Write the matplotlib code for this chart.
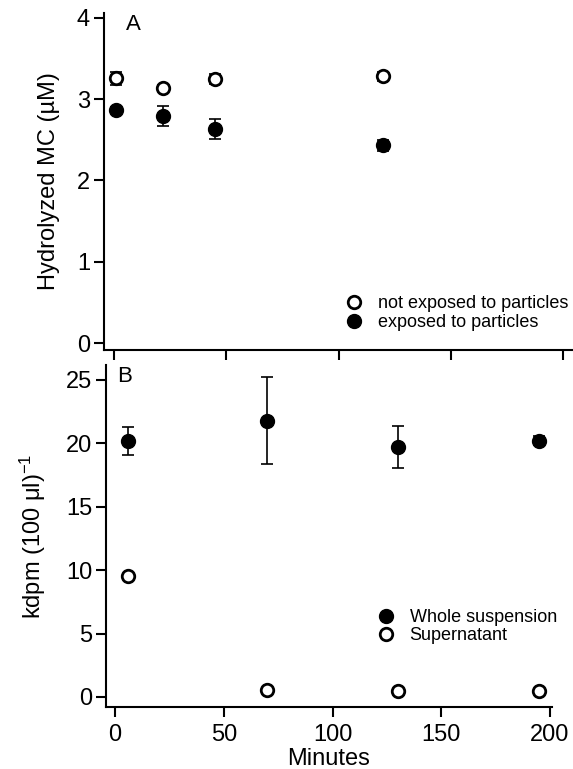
import matplotlib
matplotlib.use("Agg")
import matplotlib.pyplot as plt

plt.rcParams['font.family'] = ['Liberation Sans', 'DejaVu Sans']
plt.rcParams['mathtext.default'] = 'regular'

# Panel A: hydrolyzed MC
time_a = [1, 22, 45, 120]
not_exposed = [3.26, 3.14, 3.25, 3.28]
not_exposed_err = [0.08, 0.04, 0.06, 0.06]
exposed = [2.87, 2.79, 2.63, 2.43]
exposed_err = [0.03, 0.12, 0.12, 0.07]

# Panel B: kdpm
time_b = [6, 70, 130, 195]
whole = [20.2, 21.8, 19.7, 20.2]
whole_err = [1.1, 3.4, 1.65, 0.35]
supernatant = [9.55, 0.55, 0.5, 0.5]

W, H = 573, 769
fig = plt.figure(figsize=(W / 100, H / 100), dpi=100)


def px_axes(left, top, right, bottom):
    return fig.add_axes([left / W, 1 - bottom / H, (right - left) / W, (bottom - top) / H])


ax1 = px_axes(104, 13, 572, 350)
ax2 = px_axes(106, 365, 552, 707)

for ax in (ax1, ax2):
    for s in ('top', 'right'):
        ax.spines[s].set_visible(False)
    for s in ('left', 'bottom'):
        ax.spines[s].set_linewidth(1.5)
    ax.tick_params(direction='out', length=7, width=1.5, labelsize=17, pad=3)

# ---- panel A ----
ax1.errorbar(time_a, not_exposed, yerr=not_exposed_err, fmt='none', ecolor='black',
             elinewidth=1.2, capsize=4, capthick=1.2)
ax1.errorbar(time_a, exposed, yerr=exposed_err, fmt='none', ecolor='black',
             elinewidth=1.2, capsize=4, capthick=1.2)
ax1.plot(time_a, not_exposed, 'o', ms=9, mfc='white', mec='black', mew=2,
         label='not exposed to particles')
ax1.plot(time_a, exposed, 'o', ms=10, mfc='black', mec='black',
         label='exposed to particles')
ax1.set_xlim(-4.45, 204.0)
ax1.set_ylim(-0.086, 4.06)
ax1.set_xticks([0, 50, 100, 150, 200])
ax1.set_xticklabels([])
ax1.set_yticks([0, 1, 2, 3, 4])
ax1.set_ylabel('Hydrolyzed MC (\u00b5M)', fontsize=17)
ax1.yaxis.set_label_coords(-0.093, 0.5)
fig.text(126 / W, 1 - 25 / H, 'A', fontsize=16, va='center')
ax1.legend(loc='upper left', bbox_to_anchor=(0.515, 0.163), frameon=False,
           fontsize=13, handlelength=1, handletextpad=0.8, labelspacing=0.1,
           borderpad=0, borderaxespad=0)

# ---- panel B ----
ax2.errorbar(time_b, whole, yerr=whole_err, fmt='none', ecolor='black',
             elinewidth=1.2, capsize=4, capthick=1.2)
ax2.plot(time_b, whole, 'o', ms=10, mfc='black', mec='black', label='Whole suspension')
ax2.plot(time_b, supernatant, 'o', ms=9, mfc='white', mec='black', mew=2,
         label='Supernatant')
ax2.set_xlim(-4.14, 200.9)
ax2.set_ylim(-0.79, 26.18)
ax2.set_xticks([0, 50, 100, 150, 200])
ax2.set_yticks([0, 5, 10, 15, 20, 25])
ax2.set_xlabel('Minutes', fontsize=17, labelpad=2)
ax2.set_ylabel(r'kdpm (100 $\mu$l)$^{-1}$', fontsize=17)
ax2.yaxis.set_label_coords(-0.131, 0.5)
ax2.tick_params(axis='x', pad=5)
fig.text(117 / W, 1 - 376 / H, 'B', fontsize=16, va='center')
ax2.legend(loc='upper left', bbox_to_anchor=(0.608, 0.286), frameon=False,
           fontsize=13, handlelength=1, handletextpad=0.8, labelspacing=0.05,
           borderpad=0, borderaxespad=0)

fig.savefig('out.png', dpi=100)
